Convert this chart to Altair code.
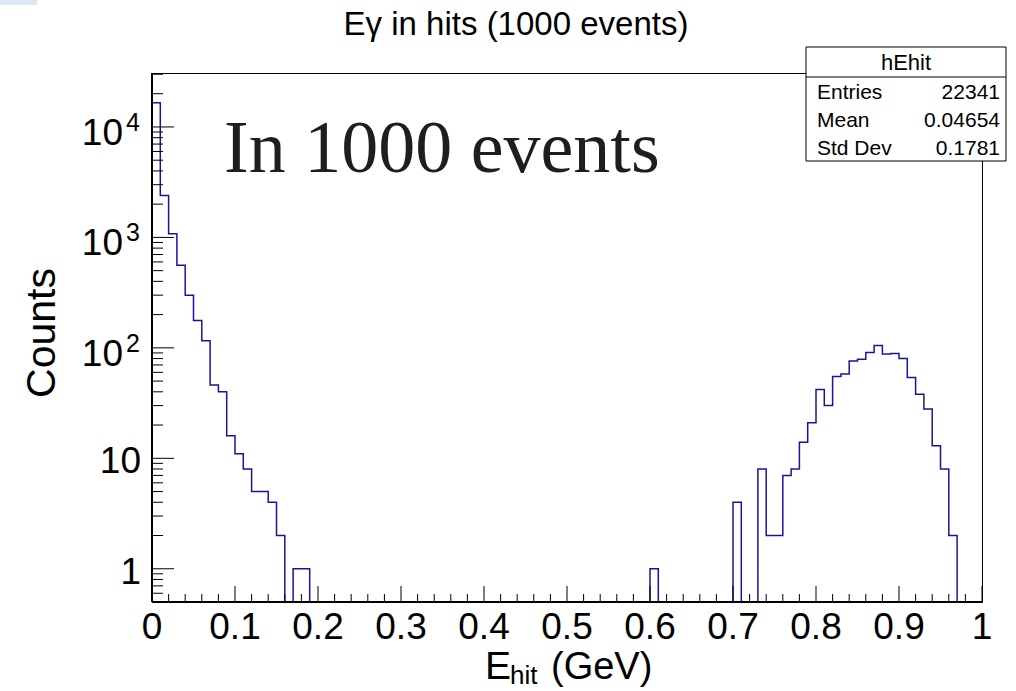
import altair as alt
import pandas as pd

# ---------------- data ----------------
counts = [
    16566, 2400, 1080, 560, 300, 177, 116, 46, 40, 16,
    11, 8, 5, 5, 4, 2, 0, 1, 1, 0,
    0, 0, 0, 0, 0, 0, 0, 0, 0, 0,
    0, 0, 0, 0, 0, 0, 0, 0, 0, 0,
    0, 0, 0, 0, 0, 0, 0, 0, 0, 0,
    0, 0, 0, 0, 0, 0, 0, 0, 0, 0,
    1, 0, 0, 0, 0, 0, 0, 0, 0, 0,
    4, 0, 0, 8, 2, 2, 7, 8, 14, 21,
    42, 30, 55, 58, 76, 79, 91, 105, 88, 89,
    80, 54, 38, 28, 13, 8, 2, 0, 0, 0,
]
x_lo, x_hi = 0.0, 1.0
bin_width = 0.01

x_major = [0.0, 0.1, 0.2, 0.3, 0.4, 0.5, 0.6, 0.7, 0.8, 0.9, 1.0]
x_major_labels = ["0", "0.1", "0.2", "0.3", "0.4", "0.5", "0.6", "0.7", "0.8", "0.9", "1"]
x_minor = [0.02, 0.04, 0.06, 0.08, 0.12, 0.14, 0.16, 0.18, 0.22, 0.24, 0.26, 0.28,
           0.32, 0.34, 0.36, 0.38, 0.42, 0.44, 0.46, 0.48, 0.52, 0.54, 0.56, 0.58,
           0.62, 0.64, 0.66, 0.68, 0.72, 0.74, 0.76, 0.78, 0.82, 0.84, 0.86, 0.88,
           0.92, 0.94, 0.96, 0.98]

y_lo, y_hi = 0.5, 30800
y_major = [1, 10, 100, 1000, 10000]
y_minor = [0.6, 0.7, 0.8, 0.9,
           2, 3, 4, 5, 6, 7, 8, 9,
           20, 30, 40, 50, 60, 70, 80, 90,
           200, 300, 400, 500, 600, 700, 800, 900,
           2000, 3000, 4000, 5000, 6000, 7000, 8000, 9000,
           20000, 30000]
y_plain_vals = [1, 10]
y_plain_labels = ["1", "10"]
y_pow_vals = [100, 1000, 10000]
y_pow_base = ["10", "10", "10"]
y_pow_exp = ["2", "3", "4"]

title_text = "E\u03b3 in hits (1000 events)"
note_text = "In 1000 events"
stats_name = "hEhit"
stats_keys = ["Entries", "Mean", "Std Dev"]
stats_vals = ["22341", "0.04654", "0.1781"]

# ---------------- layout ----------------
W, H = 830, 529
PAD_L, PAD_T = 152, 73
SANS = "Liberation Sans"
SERIF = "Liberation Serif"
LINE_COLOR = "#16169c"

XS = alt.Scale(domain=[x_lo, x_hi], nice=False, zero=False)
YS = alt.Scale(type="log", domain=[y_lo, y_hi], nice=False)

# histogram step outline
floor = 0.4
ex, ey, ek = [x_lo], [floor], [0]
for i, c in enumerate(counts):
    ex.append(round(x_lo + i * bin_width, 4))
    ey.append(c if c > 0 else floor)
    ek.append(i + 1)
ex.append(x_hi)
ey.append(floor)
ek.append(len(counts) + 1)
hist_df = pd.DataFrame({"e": ex, "c": ey, "k": ek})

hist = alt.Chart(hist_df).mark_line(
    interpolate="step-after", clip=True, color=LINE_COLOR, strokeWidth=1.5
).encode(
    x=alt.X("e:Q", scale=XS, axis=None),
    y=alt.Y("c:Q", scale=YS, axis=None),
    order="k:Q",
)

def xticks(vals, length):
    return alt.Chart(pd.DataFrame({"v": vals})).mark_rule(color="black", strokeWidth=1).encode(
        x=alt.X("v:Q", scale=XS, axis=None), y=alt.value(H), y2=alt.value(H - length)
    )

def yticks(vals, length):
    return alt.Chart(pd.DataFrame({"v": vals})).mark_rule(color="black", strokeWidth=1).encode(
        y=alt.Y("v:Q", scale=YS, axis=None), x=alt.value(0), x2=alt.value(length)
    )

def label(text, x, y, size, align="left", baseline="alphabetic", font=SANS, angle=0, color="black"):
    kw = dict(fontSize=size, font=font, align=align, baseline=baseline, color=color)
    if angle:
        kw["angle"] = angle
    return alt.Chart(pd.DataFrame({"t": [text]})).mark_text(**kw).encode(
        x=alt.value(x), y=alt.value(y), text="t:N"
    )

left_line = alt.Chart(pd.DataFrame({"a": [0]})).mark_rule(color="black", strokeWidth=2).encode(
    x=alt.value(0), y=alt.value(0), y2=alt.value(H))
bottom_line = alt.Chart(pd.DataFrame({"a": [0]})).mark_rule(color="black", strokeWidth=2).encode(
    y=alt.value(H), x=alt.value(0), x2=alt.value(W))

x_labels = alt.Chart(pd.DataFrame({"v": x_major, "t": x_major_labels})).mark_text(
    fontSize=37, font=SANS, align="center", baseline="alphabetic"
).encode(x=alt.X("v:Q", scale=XS, axis=None), y=alt.value(H + 37), text="t:N")

y_plain = alt.Chart(pd.DataFrame({"v": y_plain_vals, "t": y_plain_labels})).mark_text(
    fontSize=37, font=SANS, align="right", baseline="alphabetic", dx=-11, dy=15
).encode(y=alt.Y("v:Q", scale=YS, axis=None), x=alt.value(0), text="t:N")

y_pow = alt.Chart(pd.DataFrame({"v": y_pow_vals, "t": y_pow_base})).mark_text(
    fontSize=37, font=SANS, align="right", baseline="alphabetic", dx=-29, dy=18
).encode(y=alt.Y("v:Q", scale=YS, axis=None), x=alt.value(0), text="t:N")

y_exp = alt.Chart(pd.DataFrame({"v": y_pow_vals, "t": y_pow_exp})).mark_text(
    fontSize=25, font=SANS, align="right", baseline="alphabetic", dx=-12, dy=4
).encode(y=alt.Y("v:Q", scale=YS, axis=None), x=alt.value(0), text="t:N")

# titles
title = label(title_text, 516 - PAD_L, 35 - PAD_T, 33, align="center")
ytitle = label("Counts", 55 - PAD_L, 333 - PAD_T, 41, align="center", angle=270)
xt_E = label("E", 485 - PAD_L, 679 - PAD_T, 39)
xt_sub = label("hit", 510 - PAD_L, 684 - PAD_T, 26)
xt_unit = label("(GeV)", 551 - PAD_L, 679 - PAD_T, 38)

note = label(note_text, 224 - PAD_L, 172 - PAD_T, 74, font=SERIF, color="#1e1e1e")

# stats box
bx0, bx1, by0, by1, bhead = 806, 1006, 47, 161, 77
box = alt.Chart(pd.DataFrame({"a": [0]})).mark_rect(fill="white", stroke="black", strokeWidth=1).encode(
    x=alt.value(bx0 - PAD_L), x2=alt.value(bx1 - PAD_L), y=alt.value(by0 - PAD_T), y2=alt.value(by1 - PAD_T))
box_head = alt.Chart(pd.DataFrame({"a": [0]})).mark_rule(color="black", strokeWidth=1).encode(
    x=alt.value(bx0 - PAD_L), x2=alt.value(bx1 - PAD_L), y=alt.value(bhead - PAD_T))
box_title = label(stats_name, (bx0 + bx1) / 2 - PAD_L, 70 - PAD_T, 22, align="center")
row_base = [99, 127, 155]
box_keys = alt.Chart(pd.DataFrame({"t": stats_keys, "yy": [b - PAD_T for b in row_base]})).mark_text(
    fontSize=21, font=SANS, align="left", baseline="alphabetic"
).encode(x=alt.value(817 - PAD_L), y=alt.Y("yy:Q", scale=None, axis=None), text="t:N")
box_vals = alt.Chart(pd.DataFrame({"t": stats_vals, "yy": [b - PAD_T for b in row_base]})).mark_text(
    fontSize=21, font=SANS, align="right", baseline="alphabetic"
).encode(x=alt.value(1000 - PAD_L), y=alt.Y("yy:Q", scale=None, axis=None), text="t:N")

corner = alt.Chart(pd.DataFrame({"a": [0]})).mark_rect(color="#dce6f6").encode(
    x=alt.value(-PAD_L), x2=alt.value(37 - PAD_L), y=alt.value(-PAD_T), y2=alt.value(5 - PAD_T))

chart = alt.layer(
    hist,
    xticks(x_major, 16), xticks(x_minor, 8),
    yticks(y_major, 22), yticks(y_minor, 11),
    left_line, bottom_line,
    x_labels, y_plain, y_pow, y_exp,
    title, ytitle, xt_E, xt_sub, xt_unit, note,
    box, box_head, box_title, box_keys, box_vals,
    corner,
).properties(
    width=W, height=H, autosize="none",
    padding={"left": PAD_L, "top": PAD_T, "right": 1016 - PAD_L - W, "bottom": 691 - PAD_T - H},
).configure_view(stroke="black", strokeWidth=1)

chart.save("out.html", embed_options={"renderer": "svg", "actions": False})
